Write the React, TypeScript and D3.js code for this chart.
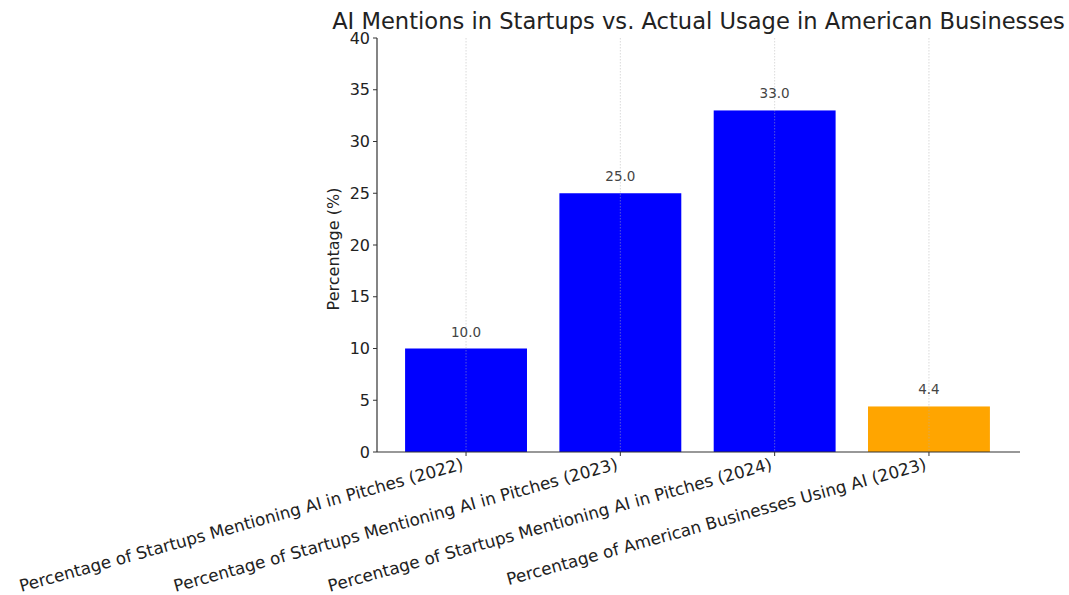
import React from "react";
import * as d3 from "d3";

const categories = [
  "Percentage of Startups Mentioning AI in Pitches (2022)",
  "Percentage of Startups Mentioning AI in Pitches (2023)",
  "Percentage of Startups Mentioning AI in Pitches (2024)",
  "Percentage of American Businesses Using AI (2023)",
];
const values = [10.0, 25.0, 33.0, 4.4];
const colors = ["#0000ff", "#0000ff", "#0000ff", "#ffa500"];
const yTicks = [0, 5, 10, 15, 20, 25, 30, 35, 40];
const title = "AI Mentions in Startups vs. Actual Usage in American Businesses";
const yLabel = "Percentage (%)";

const W = 1069;
const H = 595;
const left = 377;
const right = 1020;
const top = 38;
const bottom = 452;

export default function App() {
  const x = d3.scaleLinear().domain([-0.577, 3.59]).range([left, right]);
  const y = d3.scaleLinear().domain([0, 40]).range([bottom, top]);
  const bw = x(0.395) - x(-0.395);
  const font = "DejaVu Sans, sans-serif";
  return (
    <svg
      width={W}
      height={H}
      style={{ position: "absolute", left: 0, top: 0, background: "#fff" }}
      fontFamily={font}
    >
      {values.map((v, i) => (
        <rect
          key={"b" + i}
          x={x(i) - bw / 2}
          y={y(v)}
          width={bw}
          height={y(0) - y(v)}
          fill={colors[i]}
        />
      ))}
      {categories.map((c, i) => (
        <line
          key={"g" + i}
          x1={x(i)}
          x2={x(i)}
          y1={top}
          y2={bottom}
          stroke="#b0b0b0"
          strokeOpacity={0.6}
          strokeWidth={0.8}
          strokeDasharray="1.5,1.5"
        />
      ))}
      {values.map((v, i) => (
        <text
          key={"v" + i}
          x={x(i)}
          y={y(v) - 12}
          textAnchor="middle"
          fontSize={13.5}
          fill="#444"
        >
          {v.toFixed(1)}
        </text>
      ))}
      <line x1={left} x2={left} y1={top} y2={bottom} stroke="#333" strokeWidth={1.2} />
      <line x1={left} x2={right} y1={bottom} y2={bottom} stroke="#333" strokeWidth={1.2} />
      {yTicks.map((t) => (
        <g key={"t" + t}>
          <line x1={left - 4} x2={left} y1={y(t)} y2={y(t)} stroke="#333" strokeWidth={1} />
          <text
            x={left - 7}
            y={y(t)}
            dy="0.35em"
            textAnchor="end"
            fontSize={16}
            fill="#222"
          >
            {t}
          </text>
        </g>
      ))}
      {categories.map((c, i) => (
        <g key={"x" + i}>
          <line x1={x(i)} x2={x(i)} y1={bottom} y2={bottom + 4} stroke="#333" strokeWidth={1} />
          <text
            transform={`translate(${x(i) - 5},${bottom + 5}) rotate(-15.5)`}
            textAnchor="end"
            dy="0.75em"
            fontSize={16.8}
            fill="#222"
          >
            {c}
          </text>
        </g>
      ))}
      <text
        transform={`translate(339,${(top + bottom) / 2 + 4}) rotate(-90)`}
        textAnchor="middle"
        fontSize={16}
        fill="#222"
      >
        {yLabel}
      </text>
      <text x={(left + right) / 2} y={29} textAnchor="middle" fontSize={22.6} fill="#222">
        {title}
      </text>
    </svg>
  );
}
